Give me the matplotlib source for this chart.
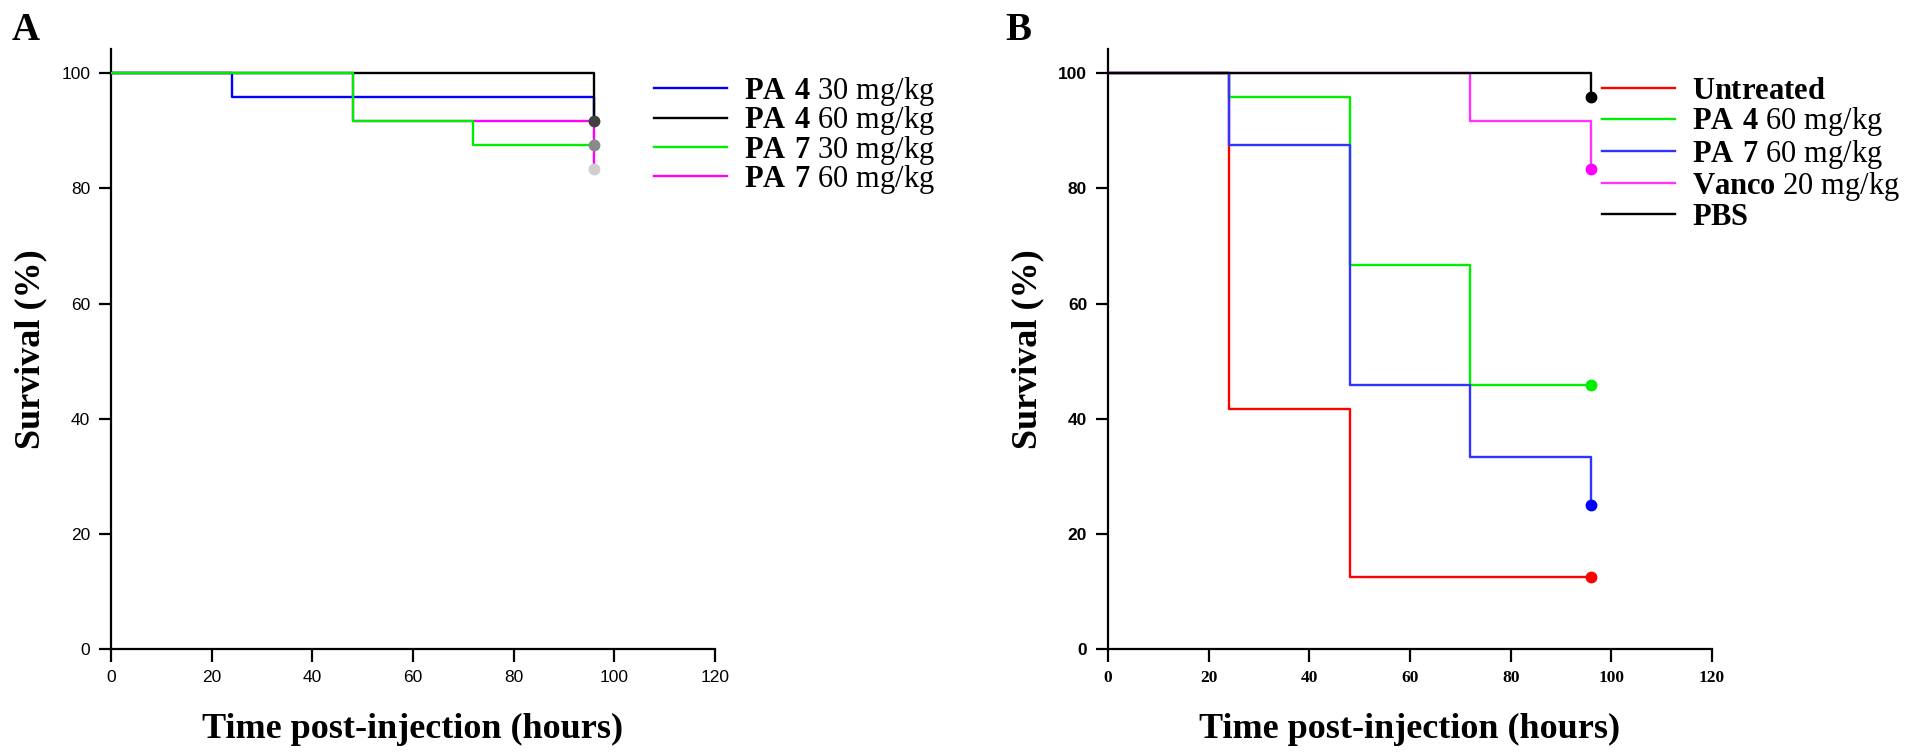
import matplotlib
matplotlib.use('Agg')
import matplotlib.pyplot as plt

plt.rcParams['mathtext.fontset'] = 'custom'
plt.rcParams['mathtext.rm'] = 'Liberation Serif'
plt.rcParams['mathtext.bf'] = 'Liberation Serif:bold'

# survival curves: (time, percent) step points
times = [0, 24, 48, 72, 96]

# panel A
a_labels = [r'$\mathbf{PA\ 4}$ 30 mg/kg', r'$\mathbf{PA\ 4}$ 60 mg/kg',
            r'$\mathbf{PA\ 7}$ 30 mg/kg', r'$\mathbf{PA\ 7}$ 60 mg/kg']
a_colors = ['#0000ff', '#000000', '#00ee00', '#ff00ff']
a_surv = [
    [100, 95.8, 95.8, 95.8, 91.7],
    [100, 100, 100, 100, 91.7],
    [100, 100, 91.7, 87.5, 87.5],
    [100, 100, 91.7, 91.7, 83.3],
]
a_marker_colors = [None, '#404040', '#8a8a8a', '#cfcfcf']
a_zorder = [2, 3, 5, 4]

# panel B
b_labels = [r'$\mathbf{Untreated}$', r'$\mathbf{PA\ 4}$ 60 mg/kg',
            r'$\mathbf{PA\ 7}$ 60 mg/kg', r'$\mathbf{Vanco}$ 20 mg/kg',
            r'$\mathbf{PBS}$']
b_colors = ['#ff0000', '#00ee00', '#3333ff', '#ff33ff', '#000000']
b_surv = [
    [100, 41.7, 12.5, 12.5, 12.5],
    [100, 95.8, 66.7, 45.8, 45.8],
    [100, 87.5, 45.8, 33.3, 25.0],
    [100, 100, 100, 91.7, 83.3],
    [100, 100, 100, 100, 95.8],
]
b_marker_colors = ['#ff0000', '#00ee00', '#0000ff', '#ff00ff', '#000000']

xticks = [0, 20, 40, 60, 80, 100, 120]
yticks = [0, 20, 40, 60, 80, 100]


def style_axes(ax, xfam, xweight, yfam, yweight):
    ax.set_xlim(0, 120)
    ax.set_ylim(0, 104.2)
    ax.spines['top'].set_visible(False)
    ax.spines['right'].set_visible(False)
    for s in ['left', 'bottom']:
        ax.spines[s].set_linewidth(1.6)
    ax.set_xticks(xticks)
    ax.set_yticks(yticks)
    ax.tick_params(length=9, width=1.6, pad=6, labelsize=12.5)
    for t in ax.get_xticklabels():
        t.set_family(xfam)
        t.set_weight(xweight)
    for t in ax.get_yticklabels():
        t.set_family(yfam)
        t.set_weight(yweight)
    ax.set_xlabel('Time post-injection (hours)', family='Liberation Serif',
                  weight='bold', fontsize=26)
    ax.set_ylabel('Survival (%)', family='Liberation Serif',
                  weight='bold', fontsize=26)
    ax.xaxis.set_label_coords(0.5, -0.107)
    ax.yaxis.set_label_coords(-0.106, 0.5)


def draw_curves(ax, surv, colors, mcolors, zorders=None):
    handles = []
    for i, (s, c, mc) in enumerate(zip(surv, colors, mcolors)):
        z = zorders[i] if zorders else 2 + i
        h, = ax.step(times, s, where='post', color=c, lw=1.7, zorder=z)
        handles.append(h)
        if mc is not None:
            ax.plot(times[-1], s[-1], 'o', color=mc, ms=7.5, zorder=10 + i,
                    clip_on=False)
    return handles


fig = plt.figure(figsize=(19.2, 7.56), dpi=100)

axA = fig.add_axes([0.0578, 0.1415, 0.3146, 0.7937])
hA = draw_curves(axA, a_surv, a_colors, a_marker_colors, a_zorder)
style_axes(axA, 'Liberation Sans', 'normal', 'Liberation Sans', 'normal')
axA.legend(hA, a_labels, loc='upper left', bbox_to_anchor=(654 / 1920, 1 - 75 / 756),
           bbox_transform=fig.transFigure, frameon=False,
           prop={'family': 'Liberation Serif', 'size': 22},
           handlelength=2.4, handletextpad=0.55, labelspacing=-0.12,
           borderpad=0, borderaxespad=0)

axB = fig.add_axes([0.5771, 0.1415, 0.3146, 0.7937])
hB = draw_curves(axB, b_surv, b_colors, b_marker_colors)
style_axes(axB, 'Liberation Serif', 'bold', 'Liberation Sans', 'bold')
axB.legend(hB, b_labels, loc='upper left', bbox_to_anchor=(1602 / 1920, 1 - 77 / 756),
           bbox_transform=fig.transFigure, frameon=False,
           prop={'family': 'Liberation Serif', 'size': 22},
           handlelength=2.4, handletextpad=0.55, labelspacing=-0.02,
           borderpad=0, borderaxespad=0)

fig.text(12 / 1920, 1 - 40 / 756, 'A', family='Liberation Serif', weight='bold',
         fontsize=28, va='baseline', ha='left')
fig.text(1005 / 1920, 1 - 40 / 756, 'B', family='Liberation Serif', weight='bold',
         fontsize=28, va='baseline', ha='left')

fig.savefig('out.png', dpi=100)
